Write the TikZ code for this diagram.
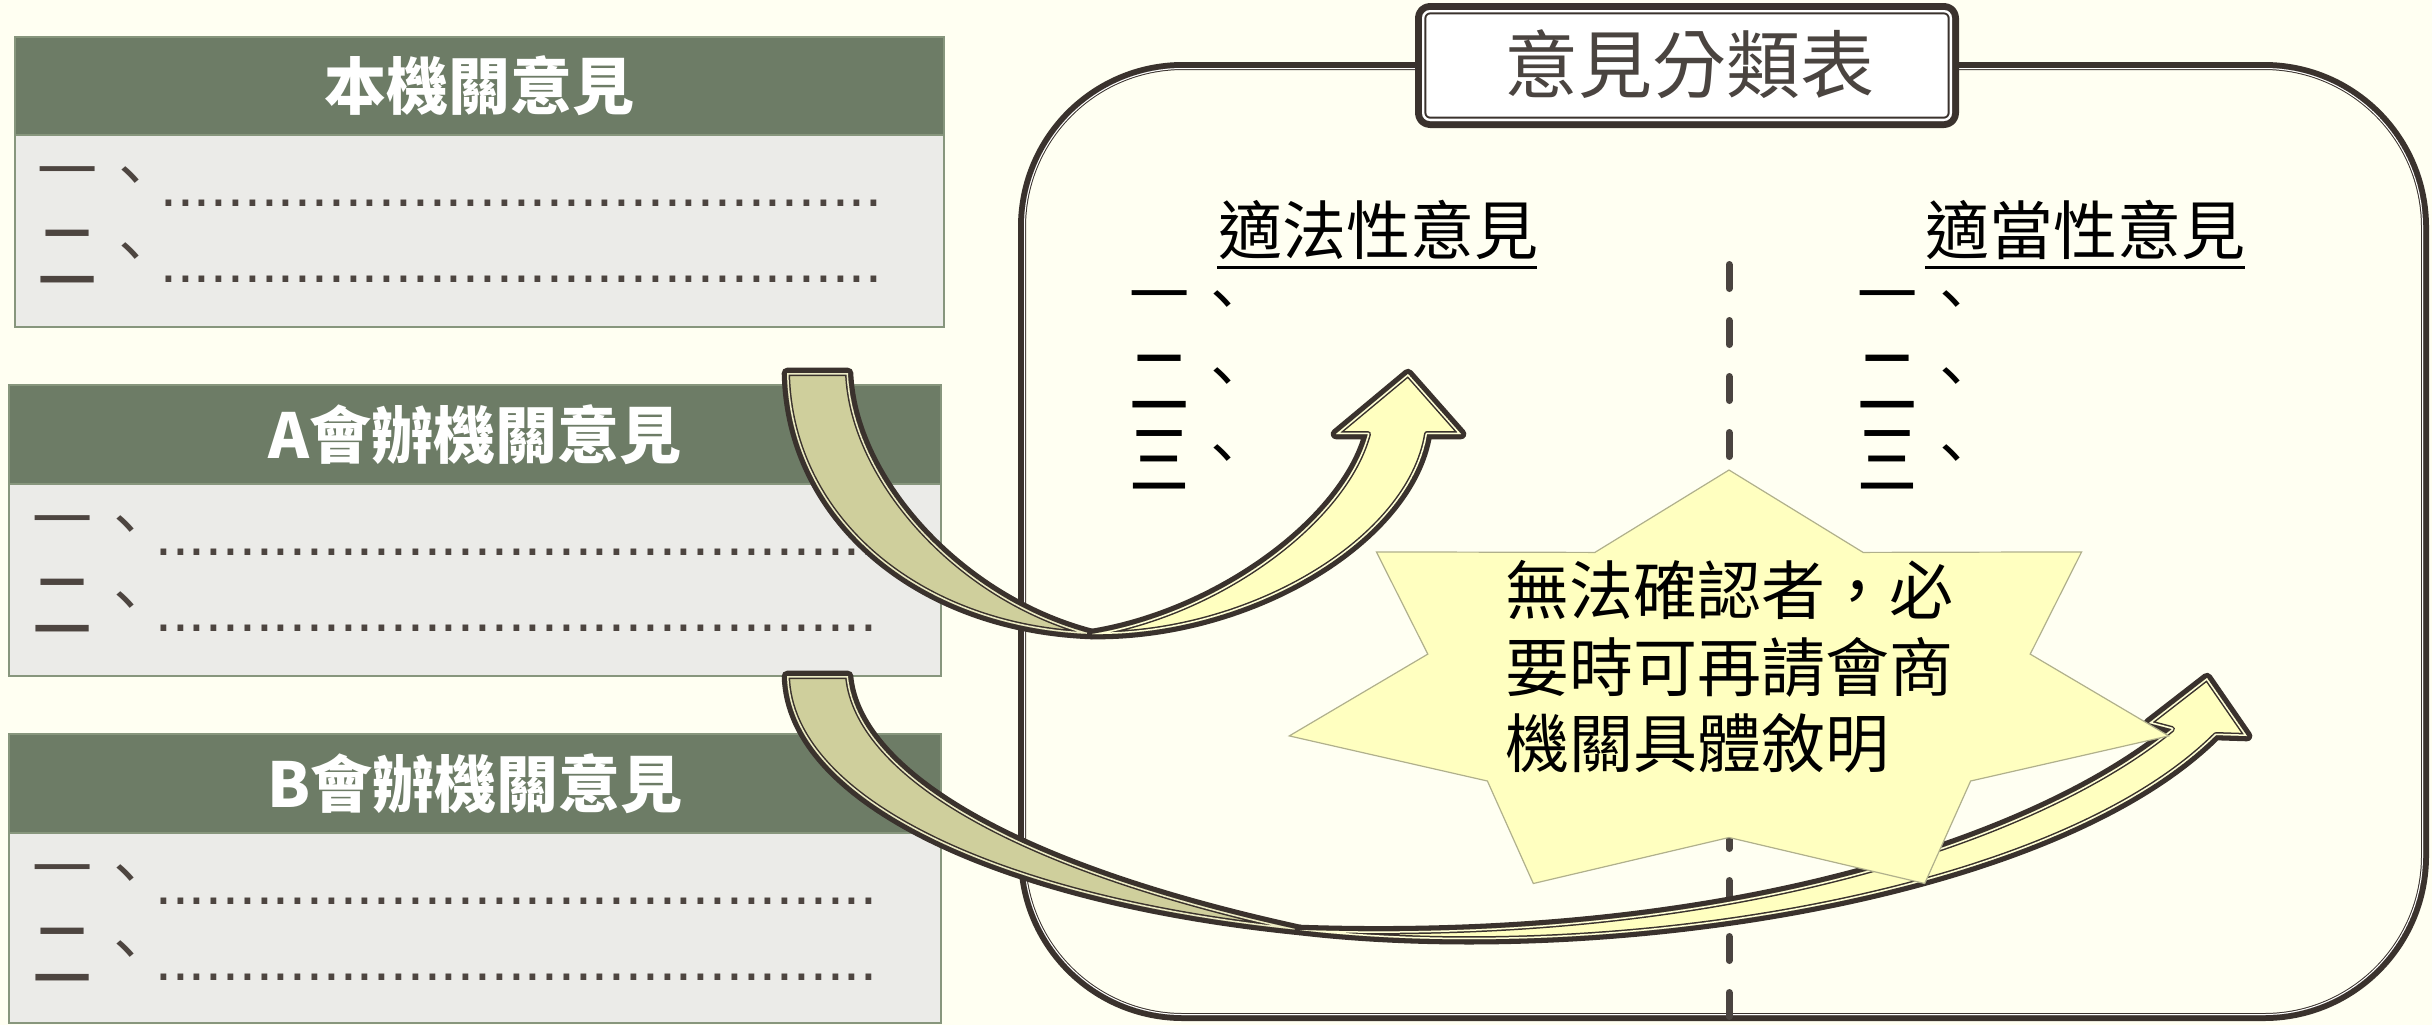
\documentclass[tikz,border=0pt]{standalone}
\usepackage{graphicx}
\usepackage{fontspec}
\newfontfamily\cjk{Noto Sans CJK TC}
\newfontfamily\lat{Liberation Sans}
\definecolor{bg}{RGB}{255,255,242}
\definecolor{hdr}{RGB}{109,124,102}
\definecolor{bodyc}{RGB}{235,235,232}
\definecolor{bxline}{RGB}{135,150,125}
\definecolor{dk}{RGB}{58,50,45}
\definecolor{txtd}{RGB}{77,69,64}
\definecolor{tanc}{RGB}{207,207,156}
\definecolor{ylw}{RGB}{255,255,192}
\definecolor{gapy}{RGB}{255,255,214}
\definecolor{gapt}{RGB}{236,235,196}
\definecolor{starln}{RGB}{176,176,140}
\definecolor{ttl}{RGB}{74,68,64}
\newcommand{\fs}[1]{\fontsize{#1}{#1}\selectfont}
\newcommand{\ttshape}[6]{%
  \draw[dk,line width=#3,line join=round] #1;
  \begin{scope}
    \clip #1;
    \fill[#2] #1;
    \draw[dk,line width=#5,line join=round] #1;
    \draw[#4,line width=#6,line join=round] #1;
  \end{scope}}
\begin{document}
\begin{tikzpicture}[x=0.5pt,y=-0.5pt,
  hdrbox/.style={fill=hdr,draw=bxline,line width=1pt,inner sep=0pt,text=white,font=\cjk\bfseries\fs{31pt}},
  bodybox/.style={fill=bodyc,draw=bxline,line width=1pt,inner sep=0pt},
  numl/.style={inner sep=0pt,text=txtd,font=\cjk\fs{30pt}},
  numr/.style={inner sep=0pt,text=black,font=\cjk\fs{30pt}},
  dotl/.style={inner sep=0pt,anchor=west,text=txtd,font=\lat\fs{30.2pt}},
  headg/.style={inner sep=0pt,text=black,font=\cjk\fs{32pt}},
  startxt/.style={inner sep=0pt,anchor=west,text=black,font=\cjk\fs{32pt}},
  dashln/.style={draw=ttl,line width=3.5pt,line cap=round,dash pattern=on 12pt off 16pt}]
\fill[bg] (0,0) rectangle (2432,1025);
\useasboundingbox (0,0) rectangle (2432,1025);

% ---- left boxes
\node[hdrbox,minimum width=464.5pt,minimum height=49pt] (h1) at (479.5,86) {本機關意見};
\node[bodybox,minimum width=464.5pt,minimum height=96pt] (b1) at (479.5,231) {};
\node[hdrbox,minimum width=466pt,minimum height=49.5pt] (h2) at (475,434.5) {A會辦機關意見};
\node[bodybox,minimum width=466pt,minimum height=96pt] (b2) at (475,580) {};
\node[hdrbox,minimum width=466pt,minimum height=49.5pt] (h3) at (475,783.5) {B會辦機關意見};
\node[bodybox,minimum width=466pt,minimum height=95pt] (b3) at (475,928) {};

\foreach \nm/\xo/\yo in {p/0/135, q/-5/484, r/-5/833}{
  \node[numl] (\nm n1) at (67.5+\xo,45+\yo) {一};
  \node[numl] (\nm c1) at (130.5+\xo,47+\yo) {、};
  \node[dotl] (\nm d1) at (160+\xo,68+\yo) {...........................................};
  \node[numl] (\nm n2) at (67.5+\xo,122.5+\yo) {\scalebox{1}[1.3]{二}};
  \node[numl] (\nm c2) at (130.5+\xo,123+\yo) {、};
  \node[dotl] (\nm d2) at (160+\xo,144+\yo) {...........................................};
}

% ---- panel
\ttshape{[rounded corners=79.5pt] (1024,68) rectangle (2423,1015)}{bg}{6pt}{white}{2pt}{1pt}
\draw[dashln] (1729,264.5) -- (1729,1018);

\node[headg] (lh) at (1378,229.5) {適法性意見};
\node[headg] (rh) at (2085.5,229.5) {適當性意見};
\draw[black,line width=1.5pt] (1217,267) -- (1537,267);
\draw[black,line width=1.5pt] (1925,267) -- (2245,267);

\foreach \nm/\xa/\xb in {l/1159.5/1222, m/1887.5/1951}{
  \node[numr] (\nm n1) at (\xa,304) {一};
  \node[numr] (\nm c1) at (\xb,306) {、};
  \node[numr] (\nm n2) at (\xa,382.5) {\scalebox{1}[1.3]{二}};
  \node[numr] (\nm c2) at (\xb,383) {、};
  \node[numr] (\nm n3) at (\xa,459.5) {\scalebox{1}[1.3]{三}};
  \node[numr] (\nm c3) at (\xb,460) {、};
}

% ---- title box
\ttshape{[rounded corners=4pt] (1422,10) rectangle (1952,121)}{white}{7pt}{white}{4.3pt}{2.3pt}
\node[inner sep=0pt,text=ttl,font=\cjk\fs{37pt}] (title) at (1689.5,64.5) {意見分類表};

% ---- arrow 1
\ttshape{(787,373) -- (848,373) .. controls (852,480) and (960,600) .. (1092,634) .. controls (920,628) and (790,520) .. (787,373) -- cycle}{tanc}{5.3pt}{gapt}{3pt}{1.5pt}
\ttshape{(1092,634) .. controls (1250,636) and (1410,540) .. (1427,434) -- (1461,434) -- (1408,374) -- (1336,434) -- (1368,434) .. controls (1345,520) and (1220,613) .. (1092,634) -- cycle}{ylw}{5.3pt}{gapy}{3pt}{1.5pt}

% ---- arrow 2
\ttshape{(787,676) -- (848,676) .. controls (855,760) and (980,860) .. (1300,930) .. controls (1000,900) and (790,800) .. (787,676) -- cycle}{tanc}{5.3pt}{gapt}{3pt}{1.5pt}
\ttshape{(1300,930) .. controls (1600,965) and (2050,900) .. (2216,735) -- (2247,736) -- (2207,678) -- (2149,723) -- (2172,729) .. controls (2050,830) and (1750,945) .. (1300,930) -- cycle}{ylw}{5.3pt}{gapy}{3pt}{1.5pt}

% ---- star
\filldraw[fill=ylw,draw=starln,line width=0.6pt]
  (1729,470) -- (1863.1,552.4) -- (2081.6,551.9) -- (2030.2,654.1) -- (2168.7,735.9)
  -- (1970.6,781.0) -- (1924.7,883.5) -- (1729,837.5) -- (1533.3,883.5) -- (1487.4,781.0)
  -- (1289.3,735.9) -- (1427.8,654.1) -- (1376.4,551.9) -- (1594.9,552.4) -- cycle;
\node[startxt] (s1) at (1505,589.5) {無法確認者，必};
\node[startxt] (s2) at (1505,667) {要時可再請會商};
\node[startxt] (s3) at (1505,743) {機關具體敘明};
\end{tikzpicture}
\end{document}
